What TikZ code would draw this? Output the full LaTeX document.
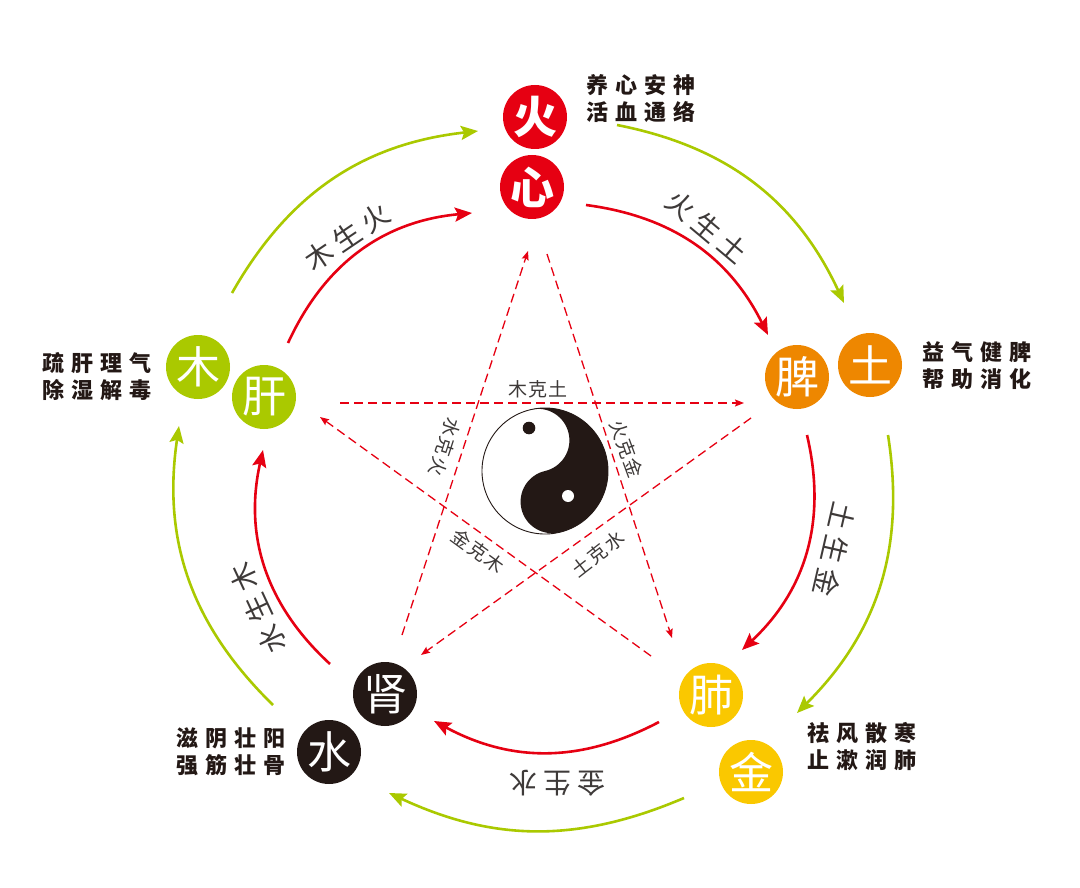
\documentclass[tikz,border=0pt]{standalone}
\usepackage{fontspec}
\setmainfont{Noto Sans CJK SC}
\usetikzlibrary{arrows.meta}
\definecolor{fire}{HTML}{E60012}
\definecolor{earth}{HTML}{EE8700}
\definecolor{metal}{HTML}{FAC800}
\definecolor{waterc}{HTML}{231815}
\definecolor{leaf}{HTML}{AAC900}
\definecolor{ink}{HTML}{231815}
\definecolor{lbl}{HTML}{3E3A39}
\begin{document}
\begin{tikzpicture}[x=1pt,y=1pt,
  elem/.style={circle,minimum size=64pt,inner sep=0pt,text=white,font=\fontsize{44}{44}\selectfont},
  desc/.style={anchor=west,align=left,inner sep=0pt,text=ink,font=\bfseries\fontsize{22}{27}\selectfont},
  gen/.style={line width=2.6pt,-{Stealth[length=17pt,width=14pt,inset=3pt]}},
  greenarc/.style={gen,draw=leaf},
  redarc/.style={gen,draw=fire},
  ke/.style={draw=fire,line width=1.3pt,dash pattern=on 9pt off 5pt,-{Stealth[length=9pt,width=7pt,inset=1.5pt]}},
  genlbl/.style={inner sep=0pt,text=lbl,font=\fontsize{28}{28}\selectfont},
  kelbl/.style={inner sep=0pt,text=lbl,font=\fontsize{19}{19}\selectfont}]
\useasboundingbox[fill=white] (0,0) rectangle (1080,-888);

% element circles
\node[elem,fill=fire,font=\bfseries\fontsize{44}{44}\selectfont] (huo) at (535,-117) {火};
\node[elem,fill=fire,font=\bfseries\fontsize{44}{44}\selectfont] (xin) at (532,-187) {心};
\node[elem,fill=earth] (pi) at (797,-377) {脾};
\node[elem,fill=earth] (tu) at (870,-365) {土};
\node[elem,fill=metal] (fei) at (711,-695) {肺};
\node[elem,fill=metal] (jin) at (751,-772) {金};
\node[elem,fill=waterc] (shen) at (385,-694) {肾};
\node[elem,fill=waterc] (shui) at (329,-752) {水};
\node[elem,fill=leaf] (mu) at (198,-367) {木};
\node[elem,fill=leaf] (gan) at (264,-397) {肝};

% descriptions
\node[desc] (dhuo) at (586,-98.5) {养\kern7pt 心\kern7pt 安\kern7pt 神\\活\kern7pt 血\kern7pt 通\kern7pt 络};
\node[desc] (dtu) at (922,-365.5) {益\kern7pt 气\kern7pt 健\kern7pt 脾\\帮\kern7pt 助\kern7pt 消\kern7pt 化};
\node[desc] (djin) at (807,-746.5) {祛\kern7pt 风\kern7pt 散\kern7pt 寒\\止\kern7pt 漱\kern7pt 润\kern7pt 肺};
\node[desc] (dshui) at (176,-751.5) {滋\kern7pt 阴\kern7pt 壮\kern7pt 阳\\强\kern7pt 筋\kern7pt 壮\kern7pt 骨};
\node[desc] (dmu) at (42,-376.5) {疏\kern7pt 肝\kern7pt 理\kern7pt 气\\除\kern7pt 湿\kern7pt 解\kern7pt 毒};

% arc end points
\coordinate (g1s) at (232,-293); \coordinate (g1e) at (478,-131);
\coordinate (g2s) at (617,-125); \coordinate (g2e) at (844,-303);
\coordinate (g3s) at (888,-435); \coordinate (g3e) at (797,-713);
\coordinate (g4s) at (684,-798); \coordinate (g4e) at (389,-793);
\coordinate (g5s) at (273,-705); \coordinate (g5e) at (179,-426);
\coordinate (r1s) at (288,-343); \coordinate (r1e) at (472,-213);
\coordinate (r2s) at (586,-205); \coordinate (r2e) at (768,-335);
\coordinate (r3s) at (807,-435); \coordinate (r3e) at (742,-650);
\coordinate (r4s) at (659,-722); \coordinate (r4e) at (434,-721);
\coordinate (r5s) at (330,-664); \coordinate (r5e) at (263,-450);

\draw[greenarc] (g1s) to[bend left=27] (g1e);
\draw[greenarc] (g2s) to[bend left=27] (g2e);
\draw[greenarc] (g3s) to[bend left=27] (g3e);
\draw[greenarc] (g4s) to[bend left=24] (g4e);
\draw[greenarc] (g5s) to[bend left=27] (g5e);
\draw[redarc] (r1s) to[bend left=30] (r1e);
\draw[redarc] (r2s) to[bend left=28] (r2e);
\draw[redarc] (r3s) to[bend left=30] (r3e);
\draw[redarc] (r4s) to[bend left=28] (r4e);
\draw[redarc] (r5s) to[bend left=30] (r5e);

% generating labels
\node[genlbl,rotate=34] (l1) at (347,-237) {木\kern6pt 生\kern6pt 火};
\node[genlbl,rotate=-40] (l2) at (707,-227) {火\kern6pt 生\kern6pt 土};
\node[genlbl,rotate=-103] (l3) at (835,-550) {土\kern6pt 生\kern6pt 金};
\node[genlbl,rotate=180] (l4) at (557,-783) {金\kern6pt 生\kern6pt 水};
\node[genlbl,rotate=115] (l5) at (258,-608) {水\kern6pt 生\kern6pt 木};

% star (controlling)
\coordinate (s1s) at (340,-403); \coordinate (s1e) at (744,-403);
\coordinate (s2s) at (402,-635); \coordinate (s2e) at (528,-251);
\coordinate (s3s) at (547,-254); \coordinate (s3e) at (672,-638);
\coordinate (s4s) at (751,-418); \coordinate (s4e) at (421,-655);
\coordinate (s5s) at (651,-656); \coordinate (s5e) at (320,-417);
\draw[ke] (s1s) -- (s1e);
\draw[ke] (s2s) -- (s2e);
\draw[ke] (s3s) -- (s3e);
\draw[ke] (s4s) -- (s4e);
\draw[ke] (s5s) -- (s5e);

\node[kelbl] (k1) at (538,-389) {木\kern1.5pt 克\kern1.5pt 土};
\node[kelbl,rotate=-108] (k2) at (445,-447) {水\kern1.5pt 克\kern1.5pt 火};
\node[kelbl,rotate=-70] (k3) at (627,-449) {火\kern1.5pt 克\kern1.5pt 金};
\node[kelbl,rotate=-36] (k4) at (478,-551) {金\kern1.5pt 克\kern1.5pt 木};
\node[kelbl,rotate=38] (k5) at (598,-554) {土\kern1.5pt 克\kern1.5pt 水};

% taiji
\begin{scope}[shift={(545,-471)},rotate=13]
  \fill[white] (0,0) circle[radius=63pt];
  \fill[ink] (0,63) arc[start angle=90,end angle=-90,radius=63pt]
    arc[start angle=270,end angle=90,radius=31.5pt]
    arc[start angle=-90,end angle=90,radius=31.5pt] -- cycle;
  \draw[ink,line width=0.9pt] (0,0) circle[radius=63pt];
\end{scope}
\fill[ink] (529,-428) circle[radius=6.3pt];
\fill[white] (568,-496) circle[radius=6pt];
\end{tikzpicture}
\end{document}
